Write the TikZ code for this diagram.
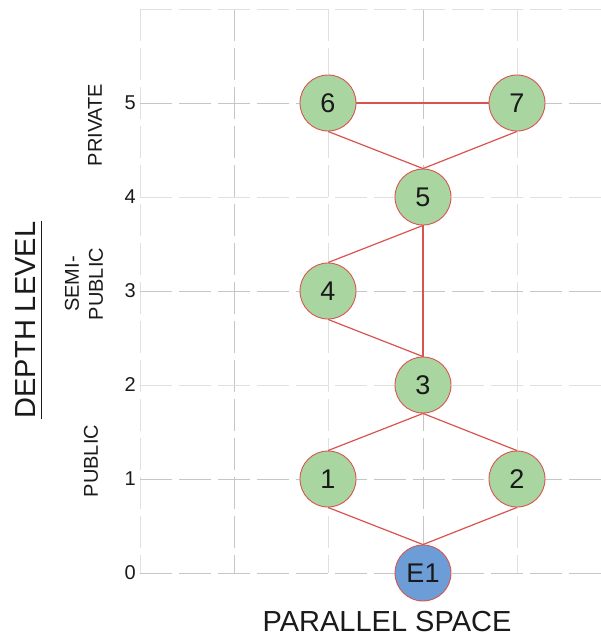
\documentclass[tikz,border=0pt]{standalone}
\usepackage{fontspec}
\setmainfont{Liberation Sans}
\definecolor{nodegreen}{HTML}{A8D5A0}
\definecolor{nodeblue}{HTML}{6C9DD6}
\definecolor{edgered}{HTML}{D9534F}
\definecolor{gridmajor}{HTML}{C6C6C6}
\definecolor{gridminor}{HTML}{E0E0E0}
\definecolor{txt}{HTML}{1A1A1A}
\tikzset{
  gridmaj/.style={gridmajor, line width=0.9pt, dash pattern=on 32pt off 7pt},
  gridmin/.style={gridminor, line width=0.9pt, dash pattern=on 32pt off 7pt},
  spacenode/.style={circle, draw=edgered, line width=0.9pt, fill=nodegreen, minimum size=56pt, inner sep=0pt, font=\fontsize{27}{27}\selectfont, text=txt},
  entrynode/.style={spacenode, fill=nodeblue},
  link/.style={edgered, line width=1.2pt},
  levelnum/.style={anchor=east, inner sep=0pt, font=\fontsize{20}{20}\selectfont, text=txt},
  zonelabel/.style={rotate=90, inner sep=0pt, align=center, font=\fontsize{20}{24}\selectfont, text=txt},
  axistitle/.style={inner sep=0pt, font=\fontsize{29}{29}\selectfont, text=txt}
}
\begin{document}
\begin{tikzpicture}[x=1pt, y=-1pt]
\useasboundingbox (0,0) rectangle (601,637);
% grid
\draw[gridmin] (140,9) -- (140,573);
\draw[gridmaj] (234,9) -- (234,573);
\draw[gridmin] (328,9) -- (328,573);
\draw[gridmaj] (423,9) -- (423,573);
\draw[gridmin] (517,9) -- (517,573);
\draw[gridmin] (140,9) -- (601,9);
\draw[gridmaj] (140,103) -- (601,103);
\draw[gridmin] (140,197) -- (601,197);
\draw[gridmaj] (140,291) -- (601,291);
\draw[gridmin] (140,385) -- (601,385);
\draw[gridmaj] (140,479) -- (601,479);
\draw[gridmaj] (140,573) -- (601,573);
% level numbers
\node[levelnum] (l0) at (136,573) {0};
\node[levelnum] (l1) at (136,479) {1};
\node[levelnum] (l2) at (136,385) {2};
\node[levelnum] (l3) at (136,291) {3};
\node[levelnum] (l4) at (136,197) {4};
\node[levelnum] (l5) at (136,103) {5};
% zone labels
\node[zonelabel] (zpriv) at (95,125) {PRIVATE};
\node[zonelabel] (zsemi) at (84,284) {SEMI-\\PUBLIC};
\node[zonelabel] (zpub) at (91,461) {PUBLIC};
% axis titles
\node[axistitle, rotate=90] (dl) at (26,320) {DEPTH LEVEL};
\draw[txt, line width=1pt] ([xshift=5pt]dl.south west) -- ([xshift=5pt]dl.south east);
\node[axistitle] (ps) at (387,622) {PARALLEL SPACE};
% spaces
\node[entrynode] (e1) at (423,573) {E1};
\node[spacenode] (n1) at (328,479) {1};
\node[spacenode] (n2) at (517,479) {2};
\node[spacenode] (n3) at (423,385) {3};
\node[spacenode] (n4) at (328,291) {4};
\node[spacenode] (n5) at (423,197) {5};
\node[spacenode] (n6) at (328,103) {6};
\node[spacenode] (n7) at (517,103) {7};
% links
\draw[link] (n6.east) -- (n7.west);
\draw[link] (n6.south) -- (n5.north);
\draw[link] (n7.south) -- (n5.north);
\draw[link] (n5.south) -- (n4.north);
\draw[link] (n5.south) -- (n3.north);
\draw[link] (n4.south) -- (n3.north);
\draw[link] (n3.south) -- (n1.north);
\draw[link] (n3.south) -- (n2.north);
\draw[link] (n1.south) -- (e1.north);
\draw[link] (n2.south) -- (e1.north);
\end{tikzpicture}
\end{document}
